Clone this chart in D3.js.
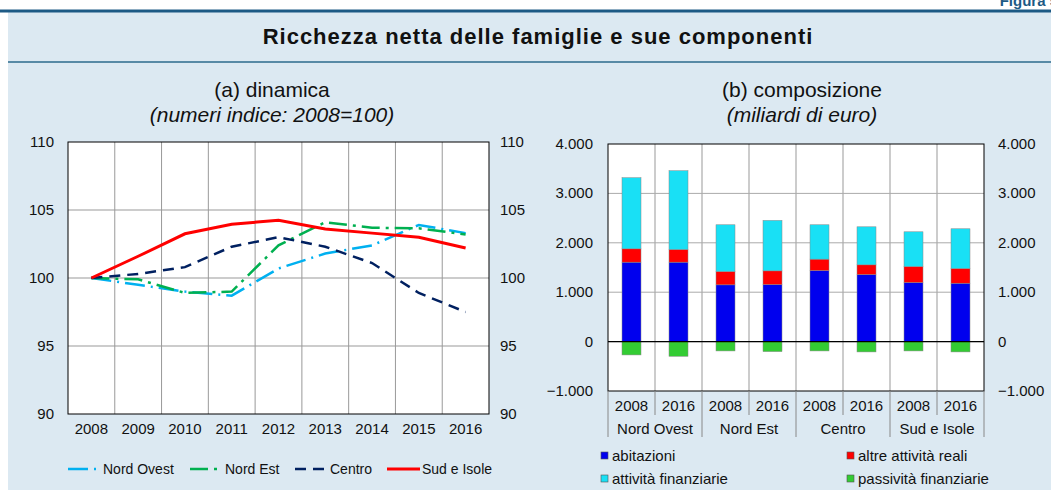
<!DOCTYPE html>
<html>
<head>
<meta charset="utf-8">
<script src="https://cdn.jsdelivr.net/npm/d3@7"></script>
<style>
  body { margin: 0; background: #fff; }
  svg { display: block; font-family: "Liberation Sans", Arial, sans-serif; }
</style>
</head>
<body>
<svg id="chart" width="1051" height="490"></svg>
<script>
// panel (a): index numbers 2008=100
const years = ["2008", "2009", "2010", "2011", "2012", "2013", "2014", "2015", "2016"];
const nordOvest = [100, 99.5, 99.0, 98.7, 100.7, 101.8, 102.4, 103.9, 103.3];
const nordEst = [100, 99.9, 98.9, 99.0, 102.4, 104.1, 103.7, 103.65, 103.2];
const centro = [100, 100.3, 100.8, 102.3, 103.0, 102.3, 101.1, 98.9, 97.5];
const sudIsole = [100, 101.6, 103.25, 103.95, 104.25, 103.6, 103.3, 103.0, 102.2];
const leftTicks = [90, 95, 100, 105, 110];

// panel (b): composition, billions of euro
const areas = ["Nord Ovest", "Nord Est", "Centro", "Sud e Isole"];
const barYears = ["2008", "2016"];
const abitazioni = [1608, 1608, 1149, 1155, 1439, 1358, 1196, 1182];
const altreReali = [270, 257, 270, 277, 230, 196, 324, 298];
const finanziarie = [1440, 1594, 946, 1021, 696, 770, 703, 804];
const passivita = [-270, -297, -189, -203, -189, -209, -189, -209];
const rightTicks = [-1000, 0, 1000, 2000, 3000, 4000];

const svg = d3.select("#chart");
const fmt = d => d3.format(",")(d).replace(/,/g, ".");

// background and header
svg.append("rect").attr("x", 8).attr("y", 11).attr("width", 1043).attr("height", 479).attr("fill", "#dce9f2");
svg.append("text").attr("x", 1058).attr("y", 6).attr("text-anchor", "end")
  .attr("font-size", 15).attr("font-weight", "bold").attr("fill", "#1d5a85").text("Figura 5");
svg.append("line").attr("x1", 0).attr("x2", 1051).attr("y1", 11).attr("y2", 11)
  .attr("stroke", "#1d5a85").attr("stroke-width", 3);
svg.append("text").attr("x", 538).attr("y", 44).attr("text-anchor", "middle")
  .attr("font-size", 22).attr("font-weight", "bold").attr("letter-spacing", 1).attr("fill", "#111")
  .text("Ricchezza netta delle famiglie e sue componenti");
svg.append("line").attr("x1", 8).attr("x2", 1051).attr("y1", 62).attr("y2", 62)
  .attr("stroke", "#2d6a8c").attr("stroke-width", 1.5);

function subtitle(cx, a, b) {
  svg.append("text").attr("x", cx).attr("y", 97).attr("text-anchor", "middle")
    .attr("font-size", 21).attr("fill", "#111").text(a);
  svg.append("text").attr("x", cx).attr("y", 122).attr("text-anchor", "middle")
    .attr("font-size", 21).attr("font-style", "italic").attr("fill", "#111").text(b);
}
subtitle(272, "(a) dinamica", "(numeri indice: 2008=100)");
subtitle(802, "(b) composizione", "(miliardi di euro)");

// ---------- panel (a) ----------
const xL = d3.scaleBand().domain(years).range([68, 489]);
const yL = d3.scaleLinear().domain([90, 110]).range([414, 142]);

const gL = svg.append("g");
gL.append("rect").attr("x", 68).attr("y", 142).attr("width", 421).attr("height", 272).attr("fill", "#fff");
gL.selectAll(".vg").data(years.slice(1)).enter().append("line")
  .attr("x1", d => xL(d)).attr("x2", d => xL(d)).attr("y1", 142).attr("y2", 414)
  .attr("stroke", "#999").attr("stroke-width", 1);
gL.selectAll(".hg").data(leftTicks.slice(1, -1)).enter().append("line")
  .attr("x1", 68).attr("x2", 489).attr("y1", d => yL(d)).attr("y2", d => yL(d))
  .attr("stroke", "#999").attr("stroke-width", 1);

const seriesL = [
  { name: "Nord Ovest", values: nordOvest, color: "#00b0f0", dash: "20,6,2,6", w: 2.5 },
  { name: "Nord Est", values: nordEst, color: "#00b050", dash: "18,6,3,6", w: 2.5 },
  { name: "Centro", values: centro, color: "#002060", dash: "11,7", w: 2.5 },
  { name: "Sud e Isole", values: sudIsole, color: "#ff0000", dash: null, w: 3 }
];
const line = d3.line().x((d, i) => xL(years[i]) + xL.bandwidth() / 2).y(d => yL(d));
seriesL.forEach(s => {
  gL.append("path").datum(s.values).attr("d", line).attr("fill", "none")
    .attr("stroke", s.color).attr("stroke-width", s.w)
    .attr("stroke-dasharray", s.dash);
});
gL.append("rect").attr("x", 68).attr("y", 142).attr("width", 421).attr("height", 272)
  .attr("fill", "none").attr("stroke", "#000").attr("stroke-width", 1);

gL.selectAll(".tl").data(leftTicks).enter().append("text")
  .attr("x", 54).attr("y", d => yL(d) + 5).attr("text-anchor", "end")
  .attr("font-size", 15).attr("fill", "#111").text(d => d);
gL.selectAll(".tr").data(leftTicks).enter().append("text")
  .attr("x", 500).attr("y", d => yL(d) + 5)
  .attr("font-size", 15).attr("fill", "#111").text(d => d);
gL.selectAll(".tx").data(years).enter().append("text")
  .attr("x", d => xL(d) + xL.bandwidth() / 2).attr("y", 434).attr("text-anchor", "middle")
  .attr("font-size", 15).attr("fill", "#111").text(d => d);

// legend (a)
const legL = [68, 190, 295, 387];
seriesL.forEach((s, i) => {
  const lg = gL.append("g").attr("transform", `translate(${legL[i]},469)`);
  lg.append("line").attr("x1", 0).attr("x2", s.dash === null ? 33 : 30)
    .attr("stroke", s.color).attr("stroke-width", s.w)
    .attr("stroke-dasharray", s.dash);
  lg.append("text").attr("x", 35).attr("y", 5).attr("font-size", 14).attr("fill", "#111").text(s.name);
});

// ---------- panel (b) ----------
const barKeys = [];
areas.forEach(a => barYears.forEach(y => barKeys.push(a + "|" + y)));
const xR = d3.scaleBand().domain(barKeys).range([608, 984]);
const yR = d3.scaleLinear().domain([-1000, 4000]).range([391, 144]);

const rows = barKeys.map((k, i) => ({
  key: k, abitazioni: abitazioni[i], altre: altreReali[i],
  finanziarie: finanziarie[i], passivita: passivita[i]
}));
const comps = ["abitazioni", "altre", "finanziarie", "passivita"];
const colors = { abitazioni: "#0000ee", altre: "#ff0000", finanziarie: "#19e0f5", passivita: "#33cc33" };
const stacked = d3.stack().keys(comps).offset(d3.stackOffsetDiverging)(rows);

const gR = svg.append("g");
gR.append("rect").attr("x", 608).attr("y", 144).attr("width", 376).attr("height", 247).attr("fill", "#fff");
gR.selectAll(".vg").data(barKeys.slice(1)).enter().append("line")
  .attr("x1", d => xR(d)).attr("x2", d => xR(d)).attr("y1", 144).attr("y2", 391)
  .attr("stroke", "#999").attr("stroke-width", 1);
gR.selectAll(".hg").data(rightTicks.slice(1, -1)).enter().append("line")
  .attr("x1", 608).attr("x2", 984).attr("y1", d => yR(d)).attr("y2", d => yR(d))
  .attr("stroke", "#aaa").attr("stroke-width", 1);

const bw = 19;
stacked.forEach(layer => {
  gR.selectAll(".b-" + layer.key).data(layer).enter().append("rect")
    .attr("x", d => xR(d.data.key) + xR.bandwidth() / 2 - bw / 2)
    .attr("width", bw)
    .attr("y", d => yR(Math.max(d[0], d[1])))
    .attr("height", d => Math.abs(yR(d[0]) - yR(d[1])))
    .attr("fill", colors[layer.key]).attr("stroke", "#888").attr("stroke-width", 0.5);
});
gR.append("line").attr("x1", 608).attr("x2", 984).attr("y1", yR(0)).attr("y2", yR(0))
  .attr("stroke", "#000").attr("stroke-width", 1.2);
gR.append("rect").attr("x", 608).attr("y", 144).attr("width", 376).attr("height", 247)
  .attr("fill", "none").attr("stroke", "#000").attr("stroke-width", 1);

gR.selectAll(".tl").data(rightTicks).enter().append("text")
  .attr("x", 593).attr("y", d => yR(d) + 5).attr("text-anchor", "end")
  .attr("font-size", 15).attr("fill", "#111").text(fmt);
gR.selectAll(".tr").data(rightTicks).enter().append("text")
  .attr("x", 998).attr("y", d => yR(d) + 5)
  .attr("font-size", 15).attr("fill", "#111").text(fmt);

// category axis below plot
barKeys.forEach((k, i) => {
  const x = xR(k);
  const long = i % 2 === 0;
  gR.append("line").attr("x1", x).attr("x2", x).attr("y1", 391).attr("y2", long ? 437 : 415)
    .attr("stroke", "#888").attr("stroke-width", 1);
  gR.append("text").attr("x", x + xR.bandwidth() / 2).attr("y", 411).attr("text-anchor", "middle")
    .attr("font-size", 15).attr("fill", "#111").text(k.split("|")[1]);
});
gR.append("line").attr("x1", 984).attr("x2", 984).attr("y1", 391).attr("y2", 437)
  .attr("stroke", "#888").attr("stroke-width", 1);
areas.forEach(a => {
  const x = xR(a + "|2008") + xR.bandwidth();
  gR.append("text").attr("x", x).attr("y", 434).attr("text-anchor", "middle")
    .attr("font-size", 15).attr("fill", "#111").text(a);
});

// legend (b)
const legR = [
  { key: "abitazioni", label: "abitazioni", x: 601, y: 456 },
  { key: "altre", label: "altre attività reali", x: 847, y: 456 },
  { key: "finanziarie", label: "attività finanziarie", x: 601, y: 479 },
  { key: "passivita", label: "passività finanziarie", x: 847, y: 479 }
];
legR.forEach(l => {
  gR.append("rect").attr("x", l.x).attr("y", l.y - 4).attr("width", 7).attr("height", 7)
    .attr("fill", colors[l.key]).attr("stroke", "#555").attr("stroke-width", 0.6);
  gR.append("text").attr("x", l.x + 11).attr("y", l.y + 5)
    .attr("font-size", 15).attr("fill", "#111").text(l.label);
});
</script>
</body>
</html>
